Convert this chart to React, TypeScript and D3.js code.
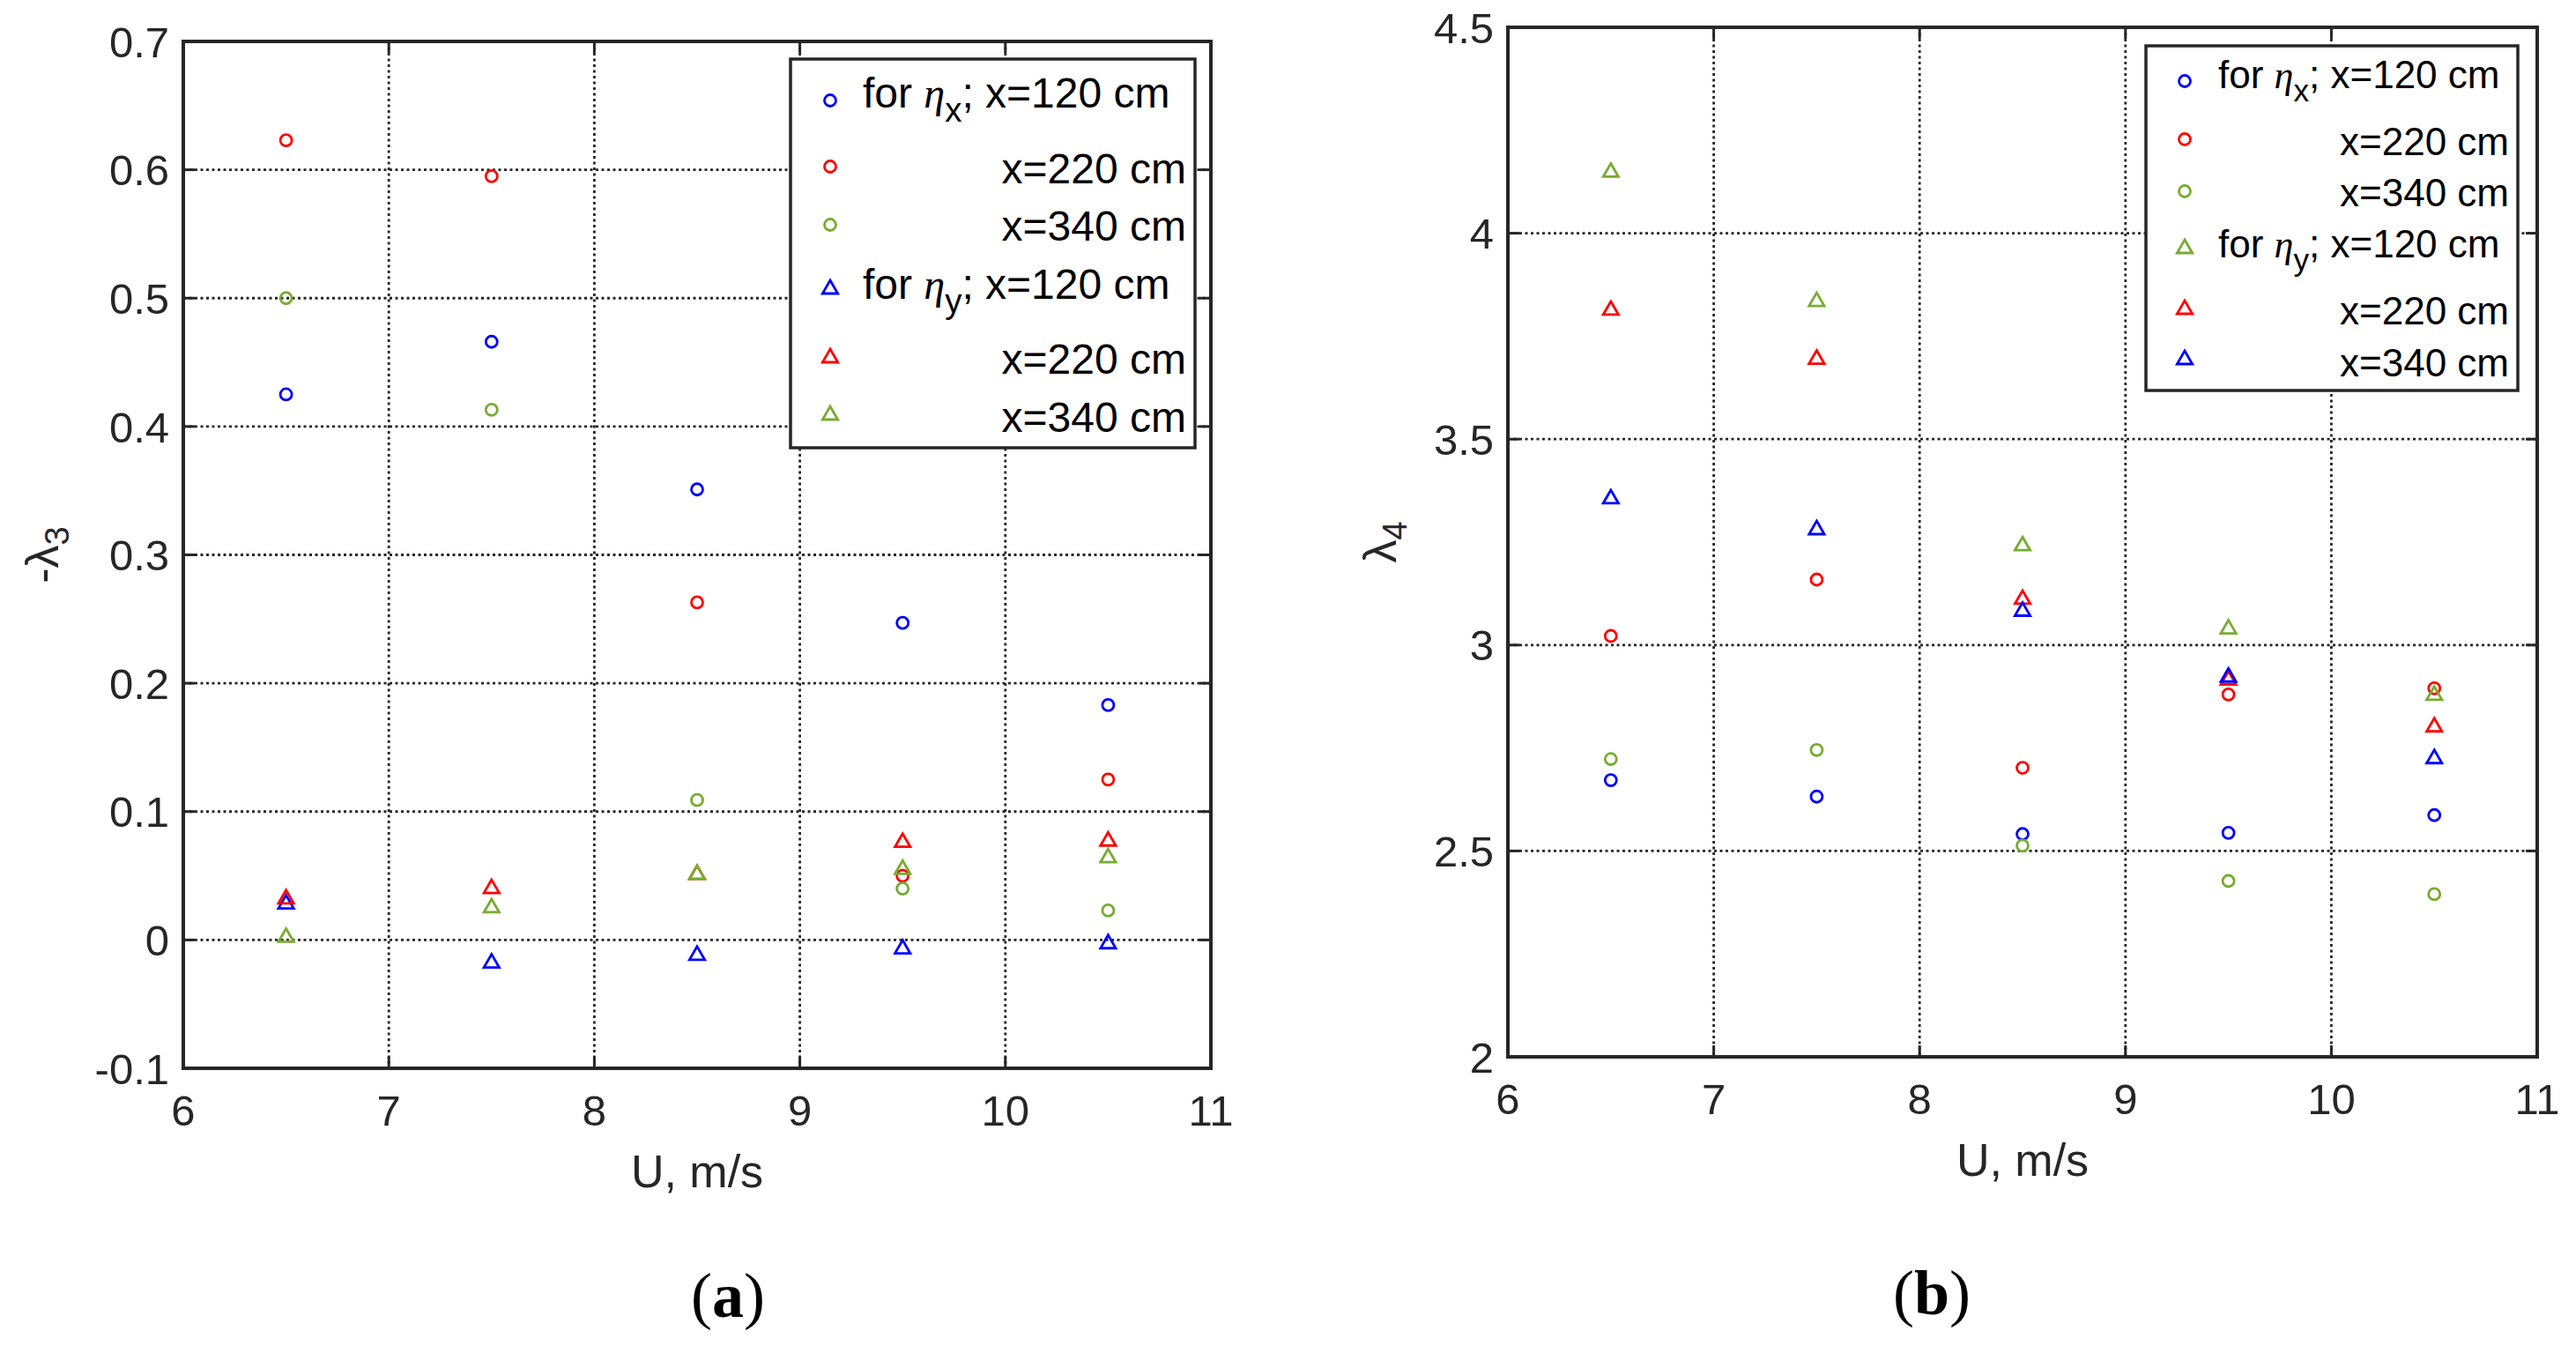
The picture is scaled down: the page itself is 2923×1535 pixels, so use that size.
import React from 'react';
import * as d3 from 'd3';

// wind speed categories (x axis)
const speeds = [6.5, 7.5, 8.5, 9.5, 10.5];
const xTicks = [6, 7, 8, 9, 10, 11];

// panel (a): -lambda_3
const aEtaX120 = [0.425, 0.466, 0.351, 0.247, 0.183];
const aEtaX220 = [0.623, 0.595, 0.263, 0.05, 0.125];
const aEtaX340 = [0.5, 0.413, 0.109, 0.04, 0.023];
const aEtaY120 = [0.028, -0.018, -0.012, -0.007, -0.003];
const aEtaY220 = [0.032, 0.04, 0.051, 0.076, 0.077];
const aEtaY340 = [0.002, 0.025, 0.051, 0.055, 0.064];
const aTicks = [-0.1, 0, 0.1, 0.2, 0.3, 0.4, 0.5, 0.6, 0.7];

// panel (b): lambda_4
const bEtaX120 = [2.672, 2.632, 2.541, 2.544, 2.587];
const bEtaX220 = [3.022, 3.159, 2.702, 2.88, 2.895];
const bEtaX340 = [2.723, 2.745, 2.513, 2.427, 2.395];
const bEtaY120 = [4.148, 3.834, 3.241, 3.039, 2.878];
const bEtaY220 = [3.813, 3.694, 3.111, 2.915, 2.801];
const bEtaY340 = [3.355, 3.28, 3.082, 2.922, 2.724];
const bTicks = [2, 2.5, 3, 3.5, 4, 4.5];

const legendLabels = ['x=120 cm', 'x=220 cm', 'x=340 cm', 'x=120 cm', 'x=220 cm', 'x=340 cm'];
const legendSubs = ['x', '', '', 'y', '', ''];

const BLUE = '#0000ff';
const RED = '#ff0000';
const GREEN = '#77ac30';
const INK = '#262626';
const SANS = '"Liberation Sans", Arial, Helvetica, sans-serif';
const SERIF = '"Liberation Serif", "Times New Roman", serif';

type Series = { values: number[]; color: string; shape: 'circle' | 'triangle' };

type LegendCfg = {
  x0: number; y0: number; x1: number; y1: number;
  markerX: number; textX: number; textRight: number;
  markerYs: number[]; baselines: number[]; fontSize: number;
};

type PanelProps = {
  left: number; top: number; width: number; height: number;
  yDomain: [number, number]; yTicks: number[];
  series: Series[]; legend: LegendCfg;
  yLabel: string; yLabelSub: string; yLabelX: number;
  tickSize: number;
};

const triPath = d3.symbol().type(d3.symbolTriangle).size(130)() as string;

const Marker: React.FC<{ x: number; y: number; color: string; shape: string }> = ({ x, y, color, shape }) =>
  shape === 'circle' ? (
    <circle cx={x} cy={y} r={6.5} fill="none" stroke={color} strokeWidth={2.8} />
  ) : (
    <path d={triPath} transform={`translate(${x},${y})`} fill="none" stroke={color} strokeWidth={2.8} />
  );

const Panel: React.FC<PanelProps> = (p) => {
  const x = d3.scaleLinear().domain([6, 11]).range([p.left, p.left + p.width]);
  const y = d3.scaleLinear().domain(p.yDomain).range([p.top + p.height, p.top]);
  const bottom = p.top + p.height;
  const right = p.left + p.width;
  const tl = 13;
  const lg = p.legend;

  return (
    <g>
      {/* grid */}
      {xTicks.slice(1, -1).map((t) => (
        <line key={'gx' + t} x1={x(t)} x2={x(t)} y1={p.top} y2={bottom}
          stroke={INK} strokeWidth={2.8} strokeDasharray="3 3.5" />
      ))}
      {p.yTicks.slice(1, -1).map((t) => (
        <line key={'gy' + t} x1={p.left} x2={right} y1={y(t)} y2={y(t)}
          stroke={INK} strokeWidth={2.8} strokeDasharray="3 3.5" />
      ))}
      {/* tick marks on all four sides */}
      {xTicks.map((t) => (
        <g key={'tx' + t} stroke={INK} strokeWidth={3}>
          <line x1={x(t)} x2={x(t)} y1={bottom} y2={bottom - tl} />
          <line x1={x(t)} x2={x(t)} y1={p.top} y2={p.top + tl} />
        </g>
      ))}
      {p.yTicks.map((t) => (
        <g key={'ty' + t} stroke={INK} strokeWidth={3}>
          <line x1={p.left} x2={p.left + tl} y1={y(t)} y2={y(t)} />
          <line x1={right} x2={right - tl} y1={y(t)} y2={y(t)} />
        </g>
      ))}
      {/* tick labels */}
      {xTicks.map((t) => (
        <text key={'lx' + t} x={x(t)} y={bottom + 65} textAnchor="middle"
          fontFamily={SANS} fontSize={p.tickSize} fill={INK}>{t}</text>
      ))}
      {p.yTicks.map((t) => (
        <text key={'ly' + t} x={p.left - 16} y={y(t)} dy="0.36em" textAnchor="end"
          fontFamily={SANS} fontSize={p.tickSize} fill={INK}>{String(t)}</text>
      ))}
      {/* data */}
      {p.series.map((s, i) => (
        <g key={'s' + i}>
          {s.values.map((v, j) => (
            <Marker key={j} x={x(speeds[j])} y={y(v)} color={s.color} shape={s.shape} />
          ))}
        </g>
      ))}
      {/* axes box */}
      <rect x={p.left} y={p.top} width={p.width} height={p.height} fill="none" stroke={INK} strokeWidth={4} />
      {/* axis labels */}
      <text x={(p.left + right) / 2} y={bottom + 135} textAnchor="middle"
        fontFamily={SANS} fontSize={52} fill={INK}>U, m/s</text>
      <text transform={`translate(${p.yLabelX},${p.top + p.height / 2}) rotate(-90)`} textAnchor="middle"
        fontFamily={SANS} fontSize={52} fill={INK}>
        {p.yLabel}
        <tspan fontSize={38} dy={12}>{p.yLabelSub}</tspan>
      </text>
      {/* legend */}
      <rect x={lg.x0} y={lg.y0} width={lg.x1 - lg.x0} height={lg.y1 - lg.y0}
        fill="#ffffff" stroke={INK} strokeWidth={3.5} />
      {p.series.map((s, i) => (
        <g key={'lg' + i}>
          <Marker x={lg.markerX} y={lg.markerYs[i]} color={s.color} shape={s.shape} />
          {legendSubs[i] ? (
            <text x={lg.textX} y={lg.baselines[i]} fontFamily={SANS} fontSize={lg.fontSize} fill="#000">
              for{' '}
              <tspan fontFamily={SERIF} fontStyle="italic">η</tspan>
              <tspan fontSize={lg.fontSize * 0.8} dy={lg.fontSize * 0.34}>{legendSubs[i]}</tspan>
              <tspan dy={-lg.fontSize * 0.34}>; {legendLabels[i]}</tspan>
            </text>
          ) : (
            <text x={lg.textRight} y={lg.baselines[i]} textAnchor="end"
              fontFamily={SANS} fontSize={lg.fontSize} fill="#000">{legendLabels[i]}</text>
          )}
        </g>
      ))}
    </g>
  );
};

const Caption: React.FC<{ x: number; y: number; letter: string }> = ({ x, y, letter }) => (
  <text x={x} y={y} textAnchor="middle" fontFamily={SERIF} fontSize={72} fill="#000">
    (<tspan fontWeight="bold">{letter}</tspan>)
  </text>
);

export default function App() {
  const seriesA: Series[] = [
    { values: aEtaX120, color: BLUE, shape: 'circle' },
    { values: aEtaX220, color: RED, shape: 'circle' },
    { values: aEtaX340, color: GREEN, shape: 'circle' },
    { values: aEtaY120, color: BLUE, shape: 'triangle' },
    { values: aEtaY220, color: RED, shape: 'triangle' },
    { values: aEtaY340, color: GREEN, shape: 'triangle' },
  ];
  const seriesB: Series[] = [
    { values: bEtaX120, color: BLUE, shape: 'circle' },
    { values: bEtaX220, color: RED, shape: 'circle' },
    { values: bEtaX340, color: GREEN, shape: 'circle' },
    { values: bEtaY120, color: GREEN, shape: 'triangle' },
    { values: bEtaY220, color: RED, shape: 'triangle' },
    { values: bEtaY340, color: BLUE, shape: 'triangle' },
  ];

  return (
    <svg width={2923} height={1535} style={{ position: 'absolute', left: 0, top: 0, background: '#fff' }}>
      <rect width={2923} height={1535} fill="#fff" />
      <Panel
        left={208} top={47} width={1166} height={1165}
        yDomain={[-0.1, 0.7]} yTicks={aTicks} series={seriesA}
        yLabel="-λ" yLabelSub="3" yLabelX={66} tickSize={49}
        legend={{
          x0: 897, y0: 67, x1: 1356, y1: 508, markerX: 942, textX: 979, textRight: 1346,
          markerYs: [114, 189, 255, 328, 406, 471], baselines: [122, 208, 273, 339, 424, 490], fontSize: 48,
        }}
      />
      <Panel
        left={1711} top={31} width={1168} height={1168}
        yDomain={[2, 4.5]} yTicks={bTicks} series={seriesB}
        yLabel="λ" yLabelSub="4" yLabelX={1584} tickSize={49}
        legend={{
          x0: 2435, y0: 52, x1: 2857, y1: 443, markerX: 2479, textX: 2517, textRight: 2847,
          markerYs: [92, 158, 217, 282, 351, 408], baselines: [100, 176, 234, 292, 368, 427], fontSize: 44,
        }}
      />
      <Caption x={826} y={1494} letter="a" />
      <Caption x={2192} y={1491} letter="b" />
    </svg>
  );
}
